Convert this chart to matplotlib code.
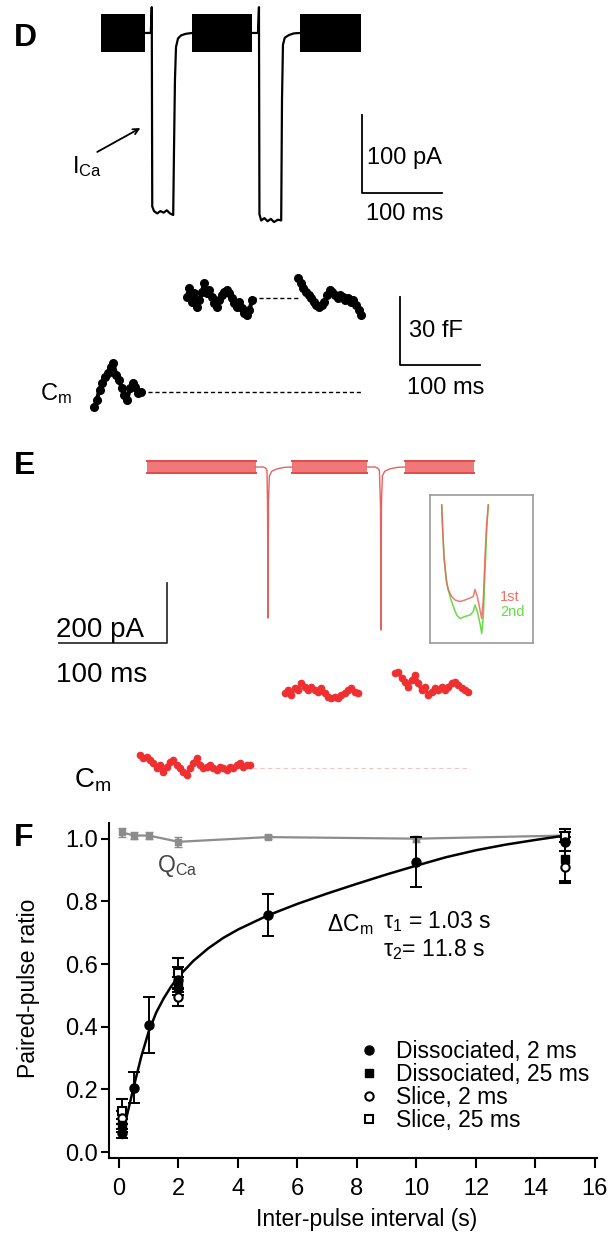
import numpy as np
import matplotlib
matplotlib.use("Agg")
import matplotlib.pyplot as plt
from matplotlib.lines import Line2D

plt.rcParams['font.family'] = ['Liberation Sans', 'DejaVu Sans']
plt.rcParams['mathtext.fontset'] = 'custom'
plt.rcParams['mathtext.rm'] = 'Liberation Sans'
plt.rcParams['mathtext.it'] = 'Liberation Sans:italic'
plt.rcParams['mathtext.default'] = 'regular'

# ---------------- data ----------------
# D: I_Ca trace (ms, pA); sine stimulus blocks drawn as envelopes
d_block_t0 = [14, 128, 263]
d_block_t1 = [69, 203, 339]
d_block_amp = 24
d_pulse1_t = [69, 76, 77.2, 77.8, 80, 84, 88, 92, 96, 100, 104, 105, 106.2, 107.5, 110, 114, 120, 128]
d_pulse1_i = [0, 0, 33, -222, -228, -231, -228, -230, -227, -231, -233, -150, -60, -18, -7, -3, -1, 0]
d_pulse2_t = [203, 210, 211.2, 211.8, 214, 218, 222, 226, 230, 235, 239, 240, 241.2, 243.5, 249, 255, 263]
d_pulse2_i = [0, 0, 33, -232, -240, -237, -241, -238, -242, -239, -240, -86, -15, -6, -2.5, -0.5, 0]

# D: Cm (fF)
d_cm_row2 = [-6.6, -3.5, 0.9, 4.0, 6.6, 8.4, 11.0, 12.8, 7.5, 5.3, 1.8, -1.3, -3.5, 1.8, 4.0, 2.2, -0.4, 0.0]
d_cm_g1 = [41.8, 45.8, 39.6, 43.6, 37.4, 40.5, 44.0, 48.0, 43.6, 44.9, 41.8, 39.2, 37.4, 40.5, 42.7,
           44.0, 44.9, 43.6, 41.4, 39.2, 37.4, 39.6, 37.0, 34.8, 33.9, 36.1, 40.5]
d_cm_g2 = [50.2, 48.0, 45.8, 44.0, 42.7, 41.4, 39.6, 38.3, 37.4, 38.3, 39.6, 42.7, 44.9, 44.0, 42.7,
           41.4, 42.7, 41.8, 40.5, 41.4, 39.6, 40.5, 38.3, 36.1, 33.9]
d_cm_row2_t = (5, 63.75)
d_cm_g1_t = (121, 202.5)
d_cm_g2_t = (260, 339)
d_cm_jump = 41.4

# E: current trace (ms, pA)
e_band_t0 = [6.5, 140.7, 245.4]
e_band_t1 = [107.4, 210.2, 309.3]
e_band_amp = 20
e_spike1_t = [107.4, 114, 116.5, 117.6, 118.1, 118.5, 119.0, 119.8, 122, 127, 134, 140.7]
e_spike1_i = [0, 0, -4, -12, -120, -503, -110, -30, -14, -6, -1, 0]
e_spike2_t = [210.2, 217.6, 220.2, 221.7, 222.7, 223.1, 223.6, 224.4, 226.6, 231.6, 238.6, 245.4]
e_spike2_i = [0, 0, -4, -12, -130, -543, -120, -30, -14, -6, -1, 0]

# E inset (ms, pA)
ins_red_t = [1.17, 1.27, 1.4, 1.6, 1.83, 2.17, 2.5, 3.0, 3.5, 4.0, 4.33, 4.5, 4.73, 5.0, 5.17, 5.33, 5.5, 5.67, 5.83]
ins_red_i = [-20, -70, -123, -166, -190, -203, -210, -213, -210, -206, -203, -189, -203, -230, -247, -210, -123, -56, -20]
ins_grn_t = [1.17, 1.27, 1.4, 1.67, 2.0, 2.33, 2.67, 3.0, 3.5, 4.0, 4.33, 4.5, 4.73, 5.0, 5.17, 5.33, 5.5, 5.67, 5.83]
ins_grn_i = [-20, -70, -123, -177, -203, -223, -240, -247, -243, -240, -233, -220, -233, -257, -277, -243, -156, -70, -20]

# E: Cm
e_cm_row2 = [6.5, 5, 5.5, 4, 2.5, 0, 1.5, -2, 0.5, 3, 4, 1.5, 0, -2, -3.5, 0, 2.5, 5, 1.5, 0, 0.5,
             1.5, 0, -1, 0.5, 0, -1, 0.5, 0, 1.5, 2.5, 0.5, 1.5, 1.5]
e_cm_g1 = [37.5, 39, 36.5, 40, 39, 42.5, 40.5, 39, 40.5, 39, 38, 40, 37.5, 35.5, 35, 35.5, 35, 36.5,
           37.5, 39, 40, 38, 37.5]
e_cm_g2 = [47.5, 48, 45, 43, 40.5, 44, 46.5, 42.5, 39, 40.5, 36.5, 38, 40, 39, 40.5, 39, 40.5, 42.5,
           43, 41.5, 40, 39, 38]
e_cm_row2_t = (0, 102)
e_cm_g1_t = (134, 202)
e_cm_g2_t = (236, 304)

# F: paired-pulse ratio
qca_t = [0.1, 0.5, 1, 2, 5, 10, 15]
qca_y = [1.02, 1.01, 1.01, 0.99, 1.005, 1.0, 1.01]
qca_err = [0.015, 0.01, 0.01, 0.015, 0.006, 0.01, 0.01]

dis2_t = [0.1, 0.5, 1, 2, 5, 10, 15]
dis2_y = [0.06, 0.205, 0.405, 0.55, 0.755, 0.925, 0.99]
dis2_err = [0.015, 0.05, 0.09, 0.04, 0.067, 0.08, 0.03]
dis25_t = [0.1, 2, 15]
dis25_y = [0.085, 0.53, 0.935]
dis25_err = [0.02, 0.03, 0.07]
sl2_t = [0.1, 2, 15]
sl2_y = [0.11, 0.495, 0.91]
sl2_err = [0.02, 0.03, 0.05]
sl25_t = [0.1, 2, 15]
sl25_y = [0.13, 0.57, 1.01]
sl25_err = [0.04, 0.05, 0.02]

fit_t = [0.1, 0.25, 0.5, 0.75, 1, 1.25, 1.5, 1.75, 2, 2.5, 3, 3.5, 4, 5, 6, 7, 8, 9, 10, 11, 12, 13, 14, 15]
fit_y = [0.045, 0.11, 0.21, 0.305, 0.385, 0.445, 0.49, 0.528, 0.56, 0.61, 0.65, 0.683, 0.71, 0.755,
         0.792, 0.825, 0.856, 0.886, 0.914, 0.941, 0.963, 0.981, 0.996, 1.01]

# ---------------- figure ----------------
W, H = 614, 1237
fig = plt.figure(figsize=(W / 100, H / 100), dpi=100)


def px_axes(x0, y0, x1, y1):
    a = fig.add_axes([x0 / W, 1 - y1 / H, (x1 - x0) / W, (y1 - y0) / H])
    a.patch.set_alpha(0)
    return a


FS_D = 17
FS_E = 20
FS_F = 16.5
red = '#f03030'
tr_red = '#e86060'

# panel letters
for lab, y in [('D', 38), ('E', 466), ('F', 838)]:
    fig.text(14 / W, 1 - y / H, lab, fontsize=23, fontweight='bold', va='center', ha='left')

# ---- D current ----
ax = px_axes(0, 0, 480, 245)
ax.set_xlim(-112.5, 487.5)
ax.set_ylim(-271.4, 42.2)
ax.axis('off')
for t0, t1 in zip(d_block_t0, d_block_t1):
    ax.fill_between([t0, t1], [-d_block_amp] * 2, [d_block_amp] * 2, color='black', lw=0)
ax.plot(d_pulse1_t, d_pulse1_i, color='black', lw=1.6)
ax.plot(d_pulse2_t, d_pulse2_i, color='black', lw=1.6)
sb_t, sb_i = 340, -205
ax.plot([sb_t, sb_t, sb_t + 100], [sb_i + 100, sb_i, sb_i], color='black', lw=1.3)
ax.text(sb_t + 6, sb_i + 45, '100 pA', fontsize=FS_D, va='center')
ax.text(sb_t + 5, sb_i - 27, '100 ms', fontsize=FS_D, va='center')
ax.text(-22, -180, r'I$_{\mathrm{Ca}}$', fontsize=FS_D, va='baseline')
ax.annotate('', xy=(66, -120), xytext=(6, -154),
            arrowprops=dict(arrowstyle='->', color='black', lw=1.3))

# ---- D Cm ----
ax = px_axes(0, 255, 520, 415)
ax.set_xlim(-112.5, 537.5)
ax.set_ylim(-10.1, 60.3)
ax.axis('off')
for (ta, tb), vals in [(d_cm_row2_t, d_cm_row2), (d_cm_g1_t, d_cm_g1), (d_cm_g2_t, d_cm_g2)]:
    ax.plot(np.linspace(ta, tb, len(vals)), vals, color='black', lw=3, marker='o', ms=5.5)
ax.plot([d_cm_g1_t[1], d_cm_g2_t[0]], [d_cm_jump] * 2, color='black', lw=1, ls=(0, (3, 2)))
ax.plot([d_cm_row2_t[1], d_cm_g2_t[1]], [0, 0], color='black', lw=1, ls=(0, (3, 2)))
cb_t, cb_c = 387.5, 12
ax.plot([cb_t, cb_t, cb_t + 100], [cb_c + 30, cb_c, cb_c], color='black', lw=1.3)
ax.text(cb_t + 11, cb_c + 15, '30 fF', fontsize=FS_D, va='center')
ax.text(cb_t + 9, cb_c - 10, '100 ms', fontsize=FS_D, va='center')
ax.text(-62, -3.5, r'C$_{\mathrm{m}}$', fontsize=FS_D, va='baseline')

# ---- E current ----
ax = px_axes(0, 425, 614, 700)
ax.set_xlim(-129.6, 438.9)
ax.set_ylim(-775.9, 139.9)
ax.axis('off')
for t0, t1 in zip(e_band_t0, e_band_t1):
    ax.fill_between([t0, t1], [-e_band_amp] * 2, [e_band_amp] * 2, color='#f07878', lw=0)
    ax.plot([t0, t1], [e_band_amp] * 2, color='#e04a4a', lw=1.4)
    ax.plot([t0, t1], [-e_band_amp] * 2, color='#e04a4a', lw=1.4)
ax.plot(e_spike1_t, e_spike1_i, color=tr_red, lw=1)
ax.plot(e_spike2_t, e_spike2_i, color=tr_red, lw=1)
eb_t, eb_i = 25, -586
ax.plot([eb_t, eb_t, eb_t - 100], [eb_i + 200, eb_i, eb_i], color='#333333', lw=1.3)
ax.text(eb_t - 103, -566, '200 pA', fontsize=FS_E, va='baseline')
ax.text(eb_t - 103, -716, '100 ms', fontsize=FS_E, va='baseline')

# ---- E inset ----
ax = px_axes(430, 495, 533, 643)
ax.set_xlim(0, 10.3)
ax.set_ylim(-296, 0)
ax.set_xticks([])
ax.set_yticks([])
for s in ax.spines.values():
    s.set_color('#9a9a9a')
    s.set_linewidth(1.2)
ax.plot(ins_grn_t, ins_grn_i, color='#66dd44', lw=1.1)
ax.plot(ins_red_t, ins_red_i, color='#f06060', lw=1.1, alpha=0.85)
ax.text(7.0, -204, '1st', color='#f07070', fontsize=10.5, va='center')
ax.text(7.0, -234, '2nd', color='#66dd44', fontsize=10.5, va='center')

# ---- E Cm ----
ax = px_axes(0, 655, 614, 805)
ax.set_xlim(-129.6, 438.9)
ax.set_ylim(-18.5, 56.5)
ax.axis('off')
for (ta, tb), vals in [(e_cm_row2_t, e_cm_row2), (e_cm_g1_t, e_cm_g1), (e_cm_g2_t, e_cm_g2)]:
    ax.plot(np.linspace(ta, tb, len(vals)), vals, color=red, lw=2.8, marker='o', ms=4.5)
ax.plot([e_cm_row2_t[1] + 2, e_cm_g2_t[1] + 2], [0, 0], color='#f4c4c4', lw=0.8, ls=(0, (4, 3)))
ax.text(-61, -9.5, r'C$_{\mathrm{m}}$', fontsize=FS_E, va='baseline')

# ---- F ----
ax = px_axes(109, 823, 597, 1158)
ax.set_xlim(-0.336, 16.07)
ax.set_ylim(-0.019, 1.05)
ax.errorbar(qca_t, qca_y, yerr=qca_err, color='#8c8c8c', marker='s', ms=5, lw=1.6, capsize=3)
ax.plot(fit_t, fit_y, color='black', lw=1.8, zorder=3)
ek = dict(ecolor='black', elinewidth=1.4, capsize=4, capthick=1.4, ls='none', zorder=4)
ax.errorbar(sl25_t, sl25_y, yerr=sl25_err, fmt='s', ms=6, mfc='white', mec='black', mew=1.5, **ek)
ax.errorbar(sl2_t, sl2_y, yerr=sl2_err, fmt='o', ms=6, mfc='white', mec='black', mew=1.5, **ek)
ax.errorbar(dis25_t, dis25_y, yerr=dis25_err, fmt='s', ms=6, color='black', **ek)
ax.errorbar(dis2_t, dis2_y, yerr=dis2_err, fmt='o', ms=6.5, color='black', **ek)

handles = [Line2D([], [], ls='none', marker='o', ms=6.5, color='black'),
           Line2D([], [], ls='none', marker='s', ms=6, color='black'),
           Line2D([], [], ls='none', marker='o', ms=6, mfc='white', mec='black', mew=1.5),
           Line2D([], [], ls='none', marker='s', ms=6, mfc='white', mec='black', mew=1.5)]
labels = ['Dissociated, 2 ms', 'Dissociated, 25 ms', 'Slice, 2 ms', 'Slice, 25 ms']
ax.legend(handles, labels, loc='upper left', bbox_to_anchor=(0.51, 0.352), frameon=False,
          fontsize=FS_F, handlelength=1.0, handletextpad=0.65, borderpad=0, borderaxespad=0,
          labelspacing=0.0)

ax.text(1.28, 0.914, r'Q$_{\mathrm{Ca}}$', fontsize=FS_F, color='#444444', va='center')
ax.text(8.54, 0.725, r'ΔC$_{\mathrm{m}}$', fontsize=FS_F, va='center', ha='right')
ax.text(8.87, 0.735, 'τ$_1$ = 1.03 s', fontsize=FS_F, va='center')
ax.text(8.87, 0.645, 'τ$_2$= 11.8 s', fontsize=FS_F, va='center')

ax.set_xticks(range(0, 17, 2))
ax.set_yticks([0.0, 0.2, 0.4, 0.6, 0.8, 1.0])
ax.set_yticklabels(['0.0', '0.2', '0.4', '0.6', '0.8', '1.0'])
ax.tick_params(axis='x', length=7.5, width=1.5, pad=7, labelsize=17)
ax.tick_params(axis='y', length=6, width=1.5, pad=2, labelsize=17)
for s in ['top', 'right']:
    ax.spines[s].set_visible(False)
for s in ['left', 'bottom']:
    ax.spines[s].set_linewidth(1.5)
ax.set_xlabel('Inter-pulse interval (s)', fontsize=FS_F)
ax.set_ylabel('Paired-pulse ratio', fontsize=FS_F)
ax.xaxis.set_label_coords(0.527, -0.149)
ax.yaxis.set_label_coords(-0.141, 0.507)

fig.savefig('out.png', dpi=100)
